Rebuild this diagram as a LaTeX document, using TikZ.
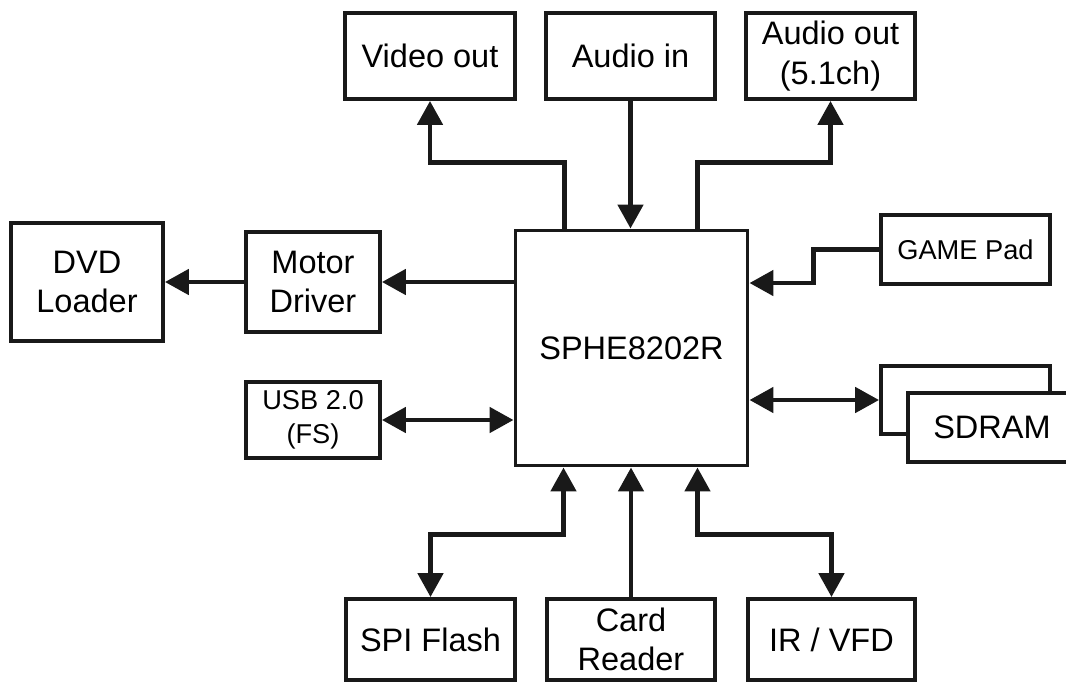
\documentclass[tikz,border=0pt]{standalone}
\usepackage{fontspec}
\setmainfont{Liberation Sans}
\usetikzlibrary{arrows.meta}

\begin{document}
\begin{tikzpicture}[
  x=0.02cm, y=-0.02cm,
  >={Triangle[length=0.48cm,width=0.5cm]},
  font=\fontsize{18.5}{22.5}\selectfont,
  box/.style={draw=black!90,line width=2.2pt,fill=white,align=center,inner sep=0pt},
  small/.style={font=\fontsize{15.5}{19.5}\selectfont},
  chipbox/.style={draw=black!90,line width=1.7pt,fill=white,inner sep=0pt},
  link/.style={draw=black!90,line width=2.8pt}
]
  \useasboundingbox (0,0) rectangle (1066,684);

  % Processor.
  \node[chipbox,minimum width=4.66cm,minimum height=4.72cm] (chip) at (631.5,348) {SPHE8202R};

  % Top row.
  \node[box,minimum width=3.4cm,minimum height=1.72cm] (video) at (430,56) {Video out};
  \node[box,minimum width=3.38cm,minimum height=1.72cm] (audioin) at (630.5,56) {Audio in};
  \node[box,minimum width=3.38cm,minimum height=1.72cm] (audioout) at (830.5,56) {Audio out\\(5.1ch)};

  % Left side.
  \node[box,minimum width=3.04cm,minimum height=2.36cm] (dvd) at (87,282) {DVD\\Loader};
  \node[box,minimum width=2.68cm,minimum height=2cm] (motor) at (313,282) {Motor\\Driver};
  \node[box,small,minimum width=2.68cm,minimum height=1.52cm] (usb) at (313,420) {USB 2.0\\(FS)};

  % Right side.
  \node[box,small,minimum width=3.38cm,minimum height=1.38cm] (gamepad) at (965.5,249.5) {GAME Pad};
  \node[box,minimum width=3.38cm,minimum height=1.36cm] (sdramback) at (965.5,400) {};
  \node[box,minimum width=3.36cm,minimum height=1.38cm] (sdram) at (992,427.5) {SDRAM};

  % Bottom row.
  \node[box,minimum width=3.38cm,minimum height=1.62cm] (spi) at (430.5,639.5) {SPI Flash};
  \node[box,minimum width=3.36cm,minimum height=1.62cm] (card) at (631,639.5) {Card\\Reader};
  \node[box,minimum width=3.34cm,minimum height=1.62cm] (irvfd) at (831.5,639.5) {IR / VFD};

  % Connectors.
  \draw[link,->] ([xshift=-1.34cm]chip.north) -- ++(0,-66) -| (video.south);
  \draw[link,->] (audioin.south) -- (audioin.south |- chip.north);
  \draw[link,->] ([xshift=1.32cm]chip.north) -- ++(0,-66) -| (audioout.south);
  \draw[link,->] (gamepad.west) -- ++(-66,0) |- ([yshift=1.3cm]chip.east);
  \draw[link,->] (chip.west |- motor.east) -- (motor.east);
  \draw[link,->] (motor.west) -- (dvd.east);
  \draw[link,<->] (usb.east) -- (usb.east -| chip.west);
  \draw[link,<->] (chip.east |- sdramback.west) -- (sdramback.west);
  \draw[link,<->] ([xshift=-1.36cm]chip.south) -- ++(0,67) -| (spi.north);
  \draw[link,->] (card.north) -- (card.north |- chip.south);
  \draw[link,<->] ([xshift=1.32cm]chip.south) -- ++(0,67) -| (irvfd.north);
\end{tikzpicture}
\end{document}
